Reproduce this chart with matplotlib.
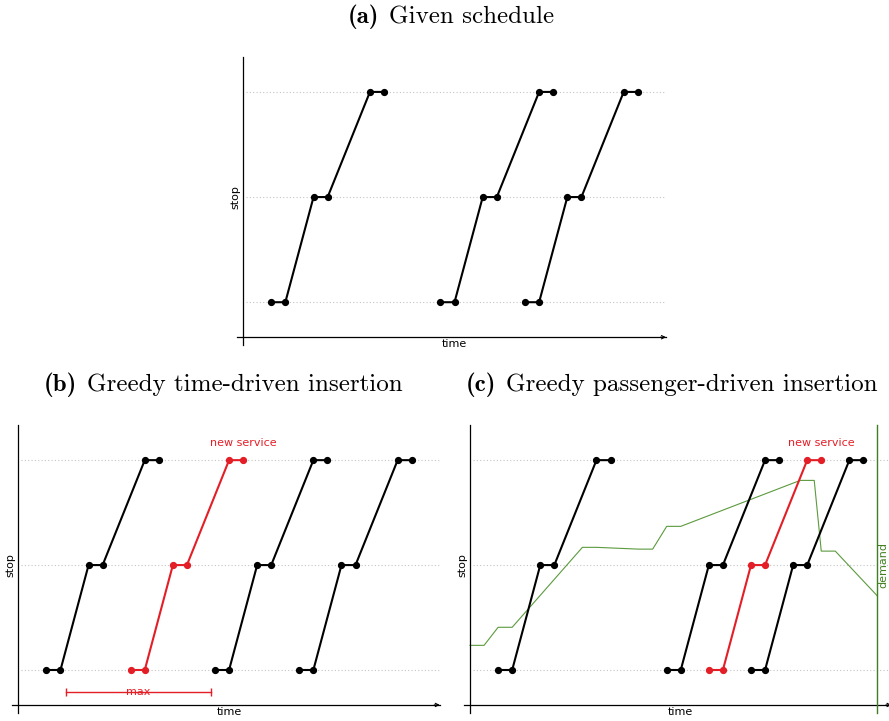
import matplotlib
matplotlib.use("Agg")
import matplotlib.pyplot as plt

plt.rcParams["mathtext.fontset"] = "cm"
plt.rcParams["font.family"] = "DejaVu Sans"

# ---- data ----
stops = [0, 1, 2]
trip_offsets = [0, 1, 3, 4, 7, 8]          # time offsets along one trip
trip_stops = [0, 0, 1, 1, 2, 2]            # stop visited at each offset
schedule_a = [2, 14, 20]                   # given trip start times
schedule_b = [2, 14, 20]
new_trip_b = 8                             # time-driven inserted trip
schedule_c = [2, 14, 20]
new_trip_c = 17                            # passenger-driven inserted trip
max_range = [3.4, 13.7]
max_level = -0.21
demand_t = [0, 1, 2, 3, 8, 9, 12, 13, 14, 15, 23.5, 24.5, 25, 26, 29]
demand_v = [0.235, 0.235, 0.407, 0.407, 1.169, 1.169, 1.152, 1.152,
            1.369, 1.369, 1.807, 1.807, 1.133, 1.133, 0.705]
demand_axis_t = 29

title_tags = ["(a)", "(b)", "(c)"]
title_texts = ["Given schedule", "Greedy time-driven insertion",
               "Greedy passenger-driven insertion"]

RED = "#e41e26"
GREEN = "#3f7f1f"
GREEN_LINE = "#5c9a3e"
GRID = "#c4c4c4"
FS = 8
TFS = 18

XMIN, XMAX = -0.45, 30.0
YMIN, YMAX = -0.407, 2.335
XAXIS_Y = -0.333

fig = plt.figure(figsize=(8.89, 7.21), dpi=100)
W, H = 889, 721


def make_ax(left_px, top_px, width_px, height_px):
    return fig.add_axes([left_px / W, (H - top_px - height_px) / H,
                         width_px / W, height_px / H])


def setup(ax):
    ax.set_xlim(XMIN, XMAX)
    ax.set_ylim(YMIN, YMAX)
    for s in ["top", "right"]:
        ax.spines[s].set_visible(False)
    ax.spines["left"].set_position(("data", 0))
    ax.spines["bottom"].set_position(("data", XAXIS_Y))
    for s in ["left", "bottom"]:
        ax.spines[s].set_linewidth(0.9)
    ax.set_xticks([])
    ax.set_yticks([])
    ax.patch.set_alpha(0)
    ax.annotate("", xy=(XMAX, XAXIS_Y), xytext=(XMAX - 0.4, XAXIS_Y),
                arrowprops=dict(arrowstyle="->", lw=0.8, color="black",
                                shrinkA=0, shrinkB=0, mutation_scale=6),
                annotation_clip=False)
    ax.hlines(stops, 0.2, XMAX, colors=GRID, linestyles=(0, (1, 2)),
              lw=0.8, zorder=0)
    ax.annotate("time", xy=((XMAX) / 2, XAXIS_Y), xytext=(0, -1.5),
                textcoords="offset points", ha="center", va="top",
                fontsize=FS)
    ax.annotate("stop", xy=(0, 1), xytext=(-2, 0),
                textcoords="offset points", ha="right", va="center",
                rotation=90, fontsize=FS)


def draw_trip(ax, start, color):
    t = [start + o for o in trip_offsets]
    ax.plot(t, trip_stops, "-o", color=color, lw=1.5, ms=4.2, zorder=3,
            solid_capstyle="round")


# panel (a)
ax_a = make_ax(236.7, 56.7, 429.3, 288.3)
setup(ax_a)
for s in schedule_a:
    draw_trip(ax_a, s, "black")

# panel (b)
ax_b = make_ax(12.0, 425.0, 427.8, 287.7)
setup(ax_b)
for s in schedule_b:
    draw_trip(ax_b, s, "black")
draw_trip(ax_b, new_trip_b, RED)
ax_b.text(new_trip_b + trip_offsets[-1], 2.16, "new service", color=RED,
          ha="center", va="center", fontsize=FS)
ax_b.plot(max_range, [max_level, max_level], color=RED, lw=1.0,
          marker="|", ms=6, mew=1.0)
ax_b.text(sum(max_range) / 2, max_level, "max", color=RED, ha="center",
          va="center", fontsize=FS)

# panel (c)
ax_c = make_ax(463.7, 425.0, 427.8, 287.7)
setup(ax_c)
for s in schedule_c:
    draw_trip(ax_c, s, "black")
draw_trip(ax_c, new_trip_c, RED)
ax_c.text(new_trip_c + trip_offsets[-1], 2.16, "new service", color=RED,
          ha="center", va="center", fontsize=FS)
ax_c.plot(demand_t, demand_v, color=GREEN_LINE, lw=0.8, zorder=1)
ax2 = ax_c.twinx()
ax2.set_ylim(YMIN, YMAX)
for s in ["top", "left", "bottom"]:
    ax2.spines[s].set_visible(False)
ax2.spines["right"].set_position(("data", demand_axis_t))
ax2.spines["right"].set_color(GREEN)
ax2.spines["right"].set_linewidth(1.0)
ax2.set_yticks([])
ax2.patch.set_alpha(0)
ax2.annotate("demand", xy=(demand_axis_t, 1), xytext=(1.0, 0),
             textcoords="offset points", ha="left", va="center",
             rotation=90, fontsize=FS, color=GREEN)

# titles: bold tag (cmb10) + regular text (cmr10), centred as a whole
renderer = fig.canvas.get_renderer()
title_pos = [(451, 17), (223, 385), (672, 385)]
gap = 10
for tag, txt, (cx, cy) in zip(title_tags, title_texts, title_pos):
    t1 = fig.text(0, 1 - cy / H, tag, family="cmb10", fontsize=TFS,
                  ha="left", va="center")
    t2 = fig.text(0, 1 - cy / H, txt, family="cmr10", fontsize=TFS,
                  ha="left", va="center")
    w1 = t1.get_window_extent(renderer).width
    w2 = t2.get_window_extent(renderer).width
    x0 = cx - (w1 + gap + w2) / 2
    t1.set_x(x0 / W)
    t2.set_x((x0 + w1 + gap) / W)

fig.savefig("out.png", dpi=100)
